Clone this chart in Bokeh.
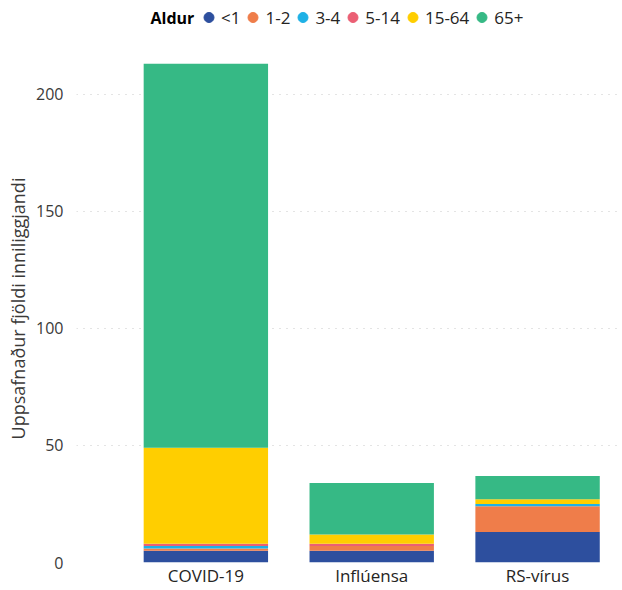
from bokeh.plotting import figure
from bokeh.layouts import column
from bokeh.models import ColumnDataSource, Range1d, Legend, LegendItem, Label, FixedTicker
from bokeh.embed import file_html
from bokeh.resources import INLINE

categories = ["COVID-19", "Inflúensa", "RS-vírus"]
age_groups = ["<1", "1-2", "3-4", "5-14", "15-64", "65+"]
under_1 = [5, 5, 13]
age_1_2 = [1, 2, 11]
age_3_4 = [1, 0, 1]
age_5_14 = [1, 1, 0]
age_15_64 = [41, 4, 2]
age_65_plus = [164, 22, 10]
colors = ["#2D4F9E", "#EF7D4A", "#1EB1E6", "#EB5F74", "#FFCE00", "#36B985"]
y_ticks = [0, 50, 100, 150, 200]

FONT = "Open Sans"
x_pos = [i + 0.5 for i in range(len(categories))]

data = {"x": x_pos}
for g, vals in zip(age_groups, [under_1, age_1_2, age_3_4, age_5_14, age_15_64, age_65_plus]):
    data[g] = vals
source = ColumnDataSource(data)

W = 622
LEFT, RIGHT = 76, 2

# ---------- header (legend) ----------
HH = 34
hdr = figure(width=W, height=HH, output_backend="svg", toolbar_location=None,
             x_range=Range1d(LEFT, W - RIGHT), y_range=Range1d(0, HH),
             min_border_left=LEFT, min_border_right=RIGHT, min_border_top=0, min_border_bottom=0)
hdr.axis.visible = False
hdr.grid.visible = False
hdr.outline_line_color = None

items = []
for g, c in zip(age_groups, colors):
    r = hdr.scatter(x=[float("nan")], y=[float("nan")], marker="circle", size=11,
                    fill_color=c, line_color=c)
    items.append(LegendItem(label=g, renderers=[r]))
legend = Legend(items=items, orientation="horizontal", location=(120, 3),
                glyph_width=25, glyph_height=28, label_height=28, label_width=0,
                label_standoff=0, spacing=0,
                padding=0, margin=0, border_line_color=None, background_fill_alpha=0,
                label_text_font=FONT, label_text_font_size="17px", label_text_color="#252423")
hdr.add_layout(legend)
hdr.add_layout(Label(x=150, y=17, text="Aldur", text_font=FONT, text_font_size="16px",
                     text_font_style="bold", text_color="#000000", text_baseline="middle"))

# ---------- main chart ----------
p = figure(width=W, height=555, output_backend="svg", toolbar_location=None,
           x_range=Range1d(-0.28, 3.0), y_range=Range1d(0, 217),
           min_border_left=LEFT, min_border_right=RIGHT, min_border_top=20, min_border_bottom=27)
p.outline_line_color = None

p.vbar_stack(age_groups, x="x", width=0.75, color=colors, line_color=None, source=source)

p.xgrid.visible = False
p.ygrid.grid_line_color = "#c8c8c8"
p.ygrid.grid_line_dash = "1 6"
p.ygrid.grid_line_width = 1

p.yaxis.ticker = FixedTicker(ticks=y_ticks)
p.yaxis.axis_line_color = None
p.yaxis.major_tick_line_color = None
p.yaxis.major_tick_out = 0
p.yaxis.major_tick_in = 0
p.yaxis.minor_tick_line_color = None
p.yaxis.minor_tick_out = 0
p.yaxis.major_label_text_font = FONT
p.yaxis.major_label_text_font_size = "16px"
p.yaxis.major_label_text_color = "#3b3a39"
p.yaxis.major_label_standoff = 13
p.yaxis.axis_label = "Uppsafnaður fjöldi inniliggjandi"
p.yaxis.axis_label_text_font = FONT
p.yaxis.axis_label_text_font_size = "18px"
p.yaxis.axis_label_text_font_style = "normal"
p.yaxis.axis_label_text_color = "#3b3a39"
p.yaxis.axis_label_standoff = 3

p.xaxis.ticker = FixedTicker(ticks=x_pos)
p.xaxis.major_label_overrides = {xv: c for xv, c in zip(x_pos, categories)}
p.xaxis.axis_line_color = None
p.xaxis.major_tick_line_color = None
p.xaxis.major_tick_out = 0
p.xaxis.major_tick_in = 0
p.xaxis.minor_tick_line_color = None
p.xaxis.minor_tick_out = 0
p.xaxis.major_label_text_font = FONT
p.xaxis.major_label_text_font_size = "17px"
p.xaxis.major_label_text_color = "#252423"
p.xaxis.major_label_standoff = 1

layout = column(hdr, p, spacing=0)
open("out.html", "w").write(file_html(layout, INLINE))
